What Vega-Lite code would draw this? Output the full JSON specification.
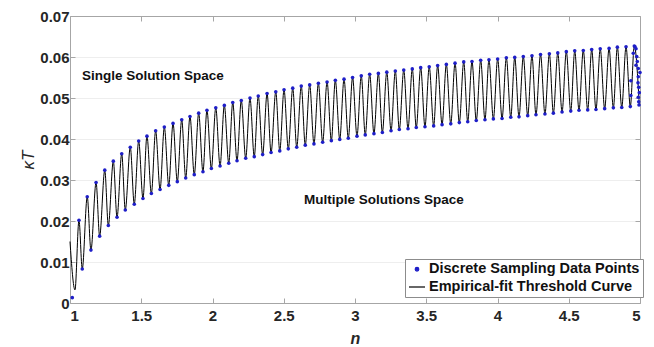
{
  "$schema": "https://vega.github.io/schema/vega-lite/v6.json",
  "width": 570,
  "height": 287,
  "autosize": "none",
  "padding": {"left": 70, "top": 16, "right": 14, "bottom": 44},
  "background": "white",
  "config": {
    "view": {"stroke": null},
    "font": "Liberation Sans",
    "axis": {
      "labelFont": "Liberation Sans",
      "labelFontWeight": "bold",
      "labelFontSize": 15,
      "labelColor": "#262626",
      "domainColor": "#a6a6a6",
      "tickColor": "#a6a6a6",
      "tickSize": -5,
      "grid": false,
      "titleFont": "Liberation Sans",
      "titleColor": "#262626"
    }
  },
  "datasets": {
    "s": [
      {"n": 1.0, "k": 0.0150, "src": "c"},
      {"n": 1.016, "k": 0.0013, "src": "d"},
      {"n": 1.035, "k": 0.0032, "src": "c"},
      {"n": 1.063, "k": 0.0202, "src": "b"},
      {"n": 1.086, "k": 0.0083, "src": "b"},
      {"n": 1.121, "k": 0.0259, "src": "b"},
      {"n": 1.147, "k": 0.0129, "src": "b"},
      {"n": 1.183, "k": 0.0294, "src": "b"},
      {"n": 1.208, "k": 0.0163, "src": "b"},
      {"n": 1.244, "k": 0.0324, "src": "b"},
      {"n": 1.269, "k": 0.0189, "src": "b"},
      {"n": 1.304, "k": 0.0346, "src": "b"},
      {"n": 1.330, "k": 0.0209, "src": "b"},
      {"n": 1.363, "k": 0.0364, "src": "b"},
      {"n": 1.388, "k": 0.0227, "src": "b"},
      {"n": 1.423, "k": 0.0380, "src": "b"},
      {"n": 1.451, "k": 0.0241, "src": "b"},
      {"n": 1.482, "k": 0.0395, "src": "b"},
      {"n": 1.512, "k": 0.0255, "src": "b"},
      {"n": 1.540, "k": 0.0407, "src": "b"},
      {"n": 1.571, "k": 0.0267, "src": "b"},
      {"n": 1.601, "k": 0.0420, "src": "b"},
      {"n": 1.632, "k": 0.0277, "src": "b"},
      {"n": 1.662, "k": 0.0429, "src": "b"},
      {"n": 1.693, "k": 0.0287, "src": "b"},
      {"n": 1.723, "k": 0.0438, "src": "b"},
      {"n": 1.753, "k": 0.0296, "src": "b"},
      {"n": 1.784, "k": 0.0447, "src": "b"},
      {"n": 1.812, "k": 0.0305, "src": "b"},
      {"n": 1.842, "k": 0.0455, "src": "b"},
      {"n": 1.872, "k": 0.0313, "src": "b"},
      {"n": 1.903, "k": 0.0463, "src": "b"},
      {"n": 1.933, "k": 0.0320, "src": "b"},
      {"n": 1.961, "k": 0.0470, "src": "b"},
      {"n": 1.992, "k": 0.0328, "src": "b"},
      {"n": 2.023, "k": 0.0476, "src": "b"},
      {"n": 2.053, "k": 0.0334, "src": "b"},
      {"n": 2.083, "k": 0.0482, "src": "b"},
      {"n": 2.114, "k": 0.0341, "src": "b"},
      {"n": 2.142, "k": 0.0489, "src": "b"},
      {"n": 2.172, "k": 0.0347, "src": "b"},
      {"n": 2.202, "k": 0.0494, "src": "b"},
      {"n": 2.233, "k": 0.0353, "src": "b"},
      {"n": 2.263, "k": 0.0500, "src": "b"},
      {"n": 2.293, "k": 0.0357, "src": "b"},
      {"n": 2.321, "k": 0.0505, "src": "b"},
      {"n": 2.352, "k": 0.0362, "src": "b"},
      {"n": 2.383, "k": 0.0511, "src": "b"},
      {"n": 2.411, "k": 0.0367, "src": "b"},
      {"n": 2.444, "k": 0.0515, "src": "b"},
      {"n": 2.472, "k": 0.0371, "src": "b"},
      {"n": 2.502, "k": 0.0520, "src": "b"},
      {"n": 2.532, "k": 0.0376, "src": "b"},
      {"n": 2.563, "k": 0.0524, "src": "b"},
      {"n": 2.591, "k": 0.0380, "src": "b"},
      {"n": 2.623, "k": 0.0529, "src": "b"},
      {"n": 2.651, "k": 0.0385, "src": "b"},
      {"n": 2.682, "k": 0.0532, "src": "b"},
      {"n": 2.712, "k": 0.0388, "src": "b"},
      {"n": 2.743, "k": 0.0536, "src": "b"},
      {"n": 2.773, "k": 0.0392, "src": "b"},
      {"n": 2.804, "k": 0.0539, "src": "b"},
      {"n": 2.834, "k": 0.0396, "src": "b"},
      {"n": 2.862, "k": 0.0543, "src": "b"},
      {"n": 2.893, "k": 0.0399, "src": "b"},
      {"n": 2.923, "k": 0.0546, "src": "b"},
      {"n": 2.953, "k": 0.0402, "src": "b"},
      {"n": 2.983, "k": 0.0550, "src": "b"},
      {"n": 3.014, "k": 0.0407, "src": "b"},
      {"n": 3.044, "k": 0.0554, "src": "b"},
      {"n": 3.072, "k": 0.0410, "src": "b"},
      {"n": 3.103, "k": 0.0558, "src": "b"},
      {"n": 3.133, "k": 0.0413, "src": "b"},
      {"n": 3.164, "k": 0.0560, "src": "b"},
      {"n": 3.192, "k": 0.0416, "src": "b"},
      {"n": 3.223, "k": 0.0563, "src": "b"},
      {"n": 3.253, "k": 0.0420, "src": "b"},
      {"n": 3.283, "k": 0.0566, "src": "b"},
      {"n": 3.311, "k": 0.0423, "src": "b"},
      {"n": 3.342, "k": 0.0568, "src": "b"},
      {"n": 3.372, "k": 0.0425, "src": "b"},
      {"n": 3.402, "k": 0.0571, "src": "b"},
      {"n": 3.430, "k": 0.0428, "src": "b"},
      {"n": 3.461, "k": 0.0574, "src": "b"},
      {"n": 3.491, "k": 0.0430, "src": "b"},
      {"n": 3.521, "k": 0.0576, "src": "b"},
      {"n": 3.552, "k": 0.0432, "src": "b"},
      {"n": 3.580, "k": 0.0579, "src": "b"},
      {"n": 3.611, "k": 0.0435, "src": "b"},
      {"n": 3.641, "k": 0.0582, "src": "b"},
      {"n": 3.672, "k": 0.0437, "src": "b"},
      {"n": 3.702, "k": 0.0585, "src": "b"},
      {"n": 3.732, "k": 0.0440, "src": "b"},
      {"n": 3.763, "k": 0.0588, "src": "b"},
      {"n": 3.791, "k": 0.0442, "src": "b"},
      {"n": 3.821, "k": 0.0589, "src": "b"},
      {"n": 3.851, "k": 0.0445, "src": "b"},
      {"n": 3.882, "k": 0.0592, "src": "b"},
      {"n": 3.912, "k": 0.0447, "src": "b"},
      {"n": 3.940, "k": 0.0593, "src": "b"},
      {"n": 3.971, "k": 0.0449, "src": "b"},
      {"n": 4.001, "k": 0.0595, "src": "b"},
      {"n": 4.032, "k": 0.0450, "src": "b"},
      {"n": 4.062, "k": 0.0598, "src": "b"},
      {"n": 4.093, "k": 0.0453, "src": "b"},
      {"n": 4.121, "k": 0.0599, "src": "b"},
      {"n": 4.151, "k": 0.0454, "src": "b"},
      {"n": 4.181, "k": 0.0601, "src": "b"},
      {"n": 4.212, "k": 0.0457, "src": "b"},
      {"n": 4.242, "k": 0.0603, "src": "b"},
      {"n": 4.270, "k": 0.0459, "src": "b"},
      {"n": 4.302, "k": 0.0606, "src": "b"},
      {"n": 4.333, "k": 0.0461, "src": "b"},
      {"n": 4.364, "k": 0.0608, "src": "b"},
      {"n": 4.392, "k": 0.0463, "src": "b"},
      {"n": 4.423, "k": 0.0610, "src": "b"},
      {"n": 4.453, "k": 0.0466, "src": "b"},
      {"n": 4.483, "k": 0.0613, "src": "b"},
      {"n": 4.514, "k": 0.0468, "src": "b"},
      {"n": 4.542, "k": 0.0615, "src": "b"},
      {"n": 4.572, "k": 0.0470, "src": "b"},
      {"n": 4.602, "k": 0.0616, "src": "b"},
      {"n": 4.633, "k": 0.0471, "src": "b"},
      {"n": 4.661, "k": 0.0618, "src": "b"},
      {"n": 4.691, "k": 0.0472, "src": "b"},
      {"n": 4.721, "k": 0.0620, "src": "b"},
      {"n": 4.752, "k": 0.0474, "src": "b"},
      {"n": 4.783, "k": 0.0621, "src": "b"},
      {"n": 4.813, "k": 0.0476, "src": "b"},
      {"n": 4.841, "k": 0.0624, "src": "b"},
      {"n": 4.872, "k": 0.0477, "src": "b"},
      {"n": 4.902, "k": 0.0625, "src": "b"},
      {"n": 4.932, "k": 0.0479, "src": "b"},
      {"n": 4.936, "k": 0.0542, "src": "d"},
      {"n": 4.936, "k": 0.0506, "src": "d"},
      {"n": 4.953, "k": 0.0609, "src": "d"},
      {"n": 4.960, "k": 0.0627, "src": "b"},
      {"n": 4.965, "k": 0.0625, "src": "d"},
      {"n": 4.972, "k": 0.0620, "src": "d"},
      {"n": 4.977, "k": 0.0601, "src": "d"},
      {"n": 4.981, "k": 0.0589, "src": "d"},
      {"n": 4.972, "k": 0.0580, "src": "d"},
      {"n": 4.988, "k": 0.0572, "src": "d"},
      {"n": 5.000, "k": 0.0562, "src": "d"},
      {"n": 4.988, "k": 0.0552, "src": "d"},
      {"n": 4.986, "k": 0.0537, "src": "d"},
      {"n": 4.991, "k": 0.0526, "src": "d"},
      {"n": 4.995, "k": 0.0513, "src": "d"},
      {"n": 4.988, "k": 0.0502, "src": "d"},
      {"n": 4.991, "k": 0.0491, "src": "d"},
      {"n": 4.993, "k": 0.0483, "src": "d"},
      {"n": 4.995, "k": 0.0483, "src": "c"}
    ],
    "ann": [
      {"n": 1.085, "k": 0.0553, "label": "Single Solution Space"},
      {"n": 2.642, "k": 0.0251, "label": "Multiple Solutions Space"}
    ]
  },
  "layer": [
    {
      "data": {"name": "s"},
      "transform": [{"filter": "datum.src != 'd'"}],
      "mark": {"type": "line", "interpolate": "monotone", "strokeWidth": 1},
      "encoding": {
        "x": {
          "field": "n", "type": "quantitative",
          "scale": {"domain": [1, 5], "nice": false},
          "axis": {
            "values": [1, 1.5, 2, 2.5, 3, 3.5, 4, 4.5, 5],
            "format": "~g",
            "title": "n",
            "titleFontStyle": "italic",
            "titleFontWeight": "bold",
            "titleFontSize": 16,
            "titlePadding": 7,
            "labelPadding": 10
          }
        },
        "y": {
          "field": "k", "type": "quantitative",
          "scale": {"domain": [0, 0.07], "nice": false},
          "axis": {
            "values": [0, 0.01, 0.02, 0.03, 0.04, 0.05, 0.06, 0.07],
            "format": "~g",
            "title": "κT",
            "titleFontStyle": "italic",
            "titleFontWeight": "normal",
            "titleFontSize": 17,
            "titlePadding": 2,
            "labelPadding": 6,
            "grid": true,
            "gridColor": "#eeeeee"
          }
        },
        "color": {
          "datum": "Empirical-fit Threshold Curve",
          "type": "nominal",
          "scale": {
            "domain": ["Discrete Sampling Data Points", "Empirical-fit Threshold Curve"],
            "range": ["#1e1ec8", "#000000"]
          },
          "legend": {
            "orient": "none", "legendX": 335, "legendY": 243,
            "title": null,
            "strokeColor": "#8c8c8c", "fillColor": "white",
            "padding": 3, "rowPadding": 2,
            "labelFont": "Liberation Sans", "labelFontSize": 14.5, "labelFontWeight": "bold", "labelColor": "#111111",
            "labelLimit": 400,
            "labelOffset": 3, "symbolStrokeWidth": 1.2,
            "encode": {"symbols": {"update": {"stroke": {"scale": "color", "field": "value"}}}}
          }
        }
      }
    },
    {
      "data": {"name": "s"},
      "transform": [{"filter": "datum.src != 'c'"}],
      "mark": {"type": "point", "filled": true, "opacity": 1},
      "encoding": {
        "x": {"field": "n", "type": "quantitative", "scale": {"domain": [1, 5], "nice": false}, "axis": null},
        "y": {"field": "k", "type": "quantitative", "scale": {"domain": [0, 0.07], "nice": false}, "axis": null},
        "color": {
          "datum": "Discrete Sampling Data Points",
          "type": "nominal",
          "scale": {
            "domain": ["Discrete Sampling Data Points", "Empirical-fit Threshold Curve"],
            "range": ["#1e1ec8", "#000000"]
          }
        },
        "shape": {
          "datum": "Discrete Sampling Data Points",
          "type": "nominal",
          "scale": {
            "domain": ["Discrete Sampling Data Points", "Empirical-fit Threshold Curve"],
            "range": ["circle", "M-1,0H1"]
          }
        },
        "size": {
          "datum": "Discrete Sampling Data Points",
          "type": "nominal",
          "scale": {
            "domain": ["Discrete Sampling Data Points", "Empirical-fit Threshold Curve"],
            "range": [13, 256]
          }
        }
      }
    },
    {
      "data": {"name": "ann"},
      "mark": {"type": "text", "align": "left", "baseline": "middle", "font": "Liberation Sans", "fontWeight": "bold", "fontSize": 13.5, "color": "#111111"},
      "encoding": {
        "x": {
          "field": "n", "type": "quantitative",
          "scale": {"domain": [1, 5], "nice": false},
          "axis": {"orient": "top", "labels": false, "title": null, "values": [1, 1.5, 2, 2.5, 3, 3.5, 4, 4.5, 5], "grid": false}
        },
        "y": {
          "field": "k", "type": "quantitative",
          "scale": {"domain": [0, 0.07], "nice": false},
          "axis": {"orient": "right", "labels": false, "title": null, "values": [0, 0.01, 0.02, 0.03, 0.04, 0.05, 0.06, 0.07], "grid": false}
        },
        "text": {"field": "label"}
      }
    }
  ],
  "resolve": {"axis": {"x": "independent", "y": "independent"}}
}
